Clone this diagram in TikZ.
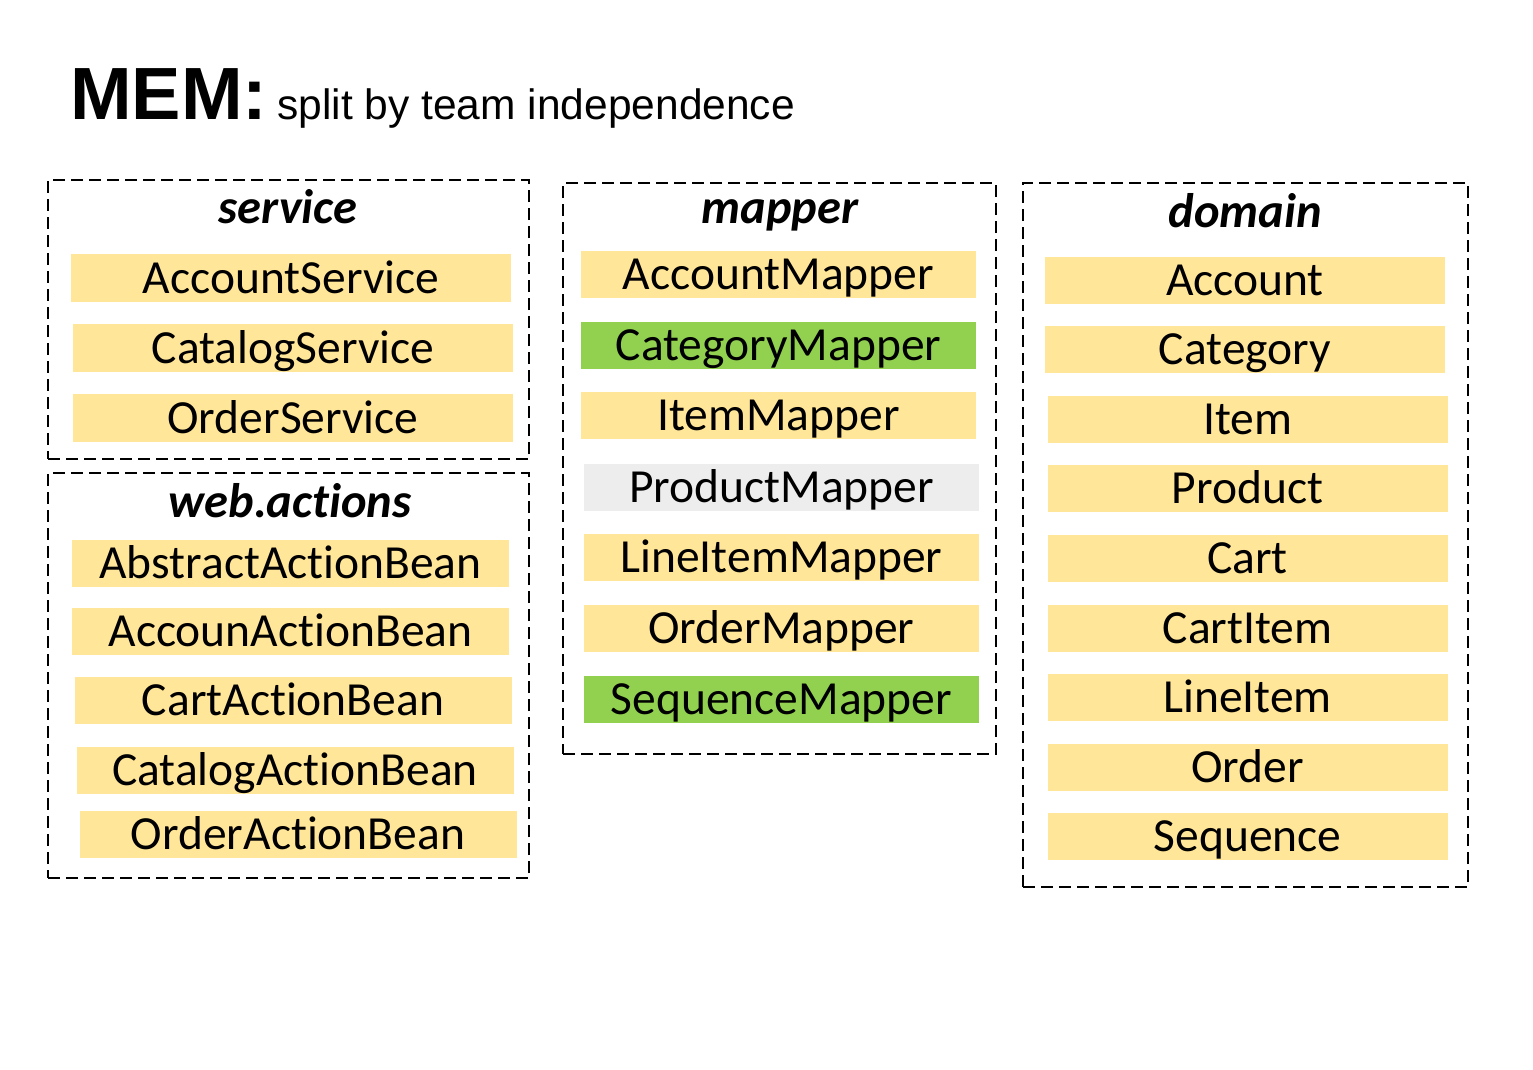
\documentclass[tikz,border=0pt]{standalone}
\usepackage{fontspec}
\setmainfont{Carlito}[Ligatures=NoCommon]
\newfontfamily\headfont{Liberation Sans}
\usepackage{tikz}
\usetikzlibrary{positioning}
\definecolor{cls}{HTML}{FFE699}
\definecolor{clsnew}{HTML}{92D050}
\definecolor{clsgone}{HTML}{EDEDED}

\begin{document}
\begin{tikzpicture} [x=1pt,y=-1pt]
	 \tikzstyle{pkg}=[draw,line width=2pt,dash pattern=on 12pt off 6pt,inner sep=0pt]
	 \tikzstyle{pkgname}=[anchor=base,inner sep=0pt,font=\fontsize{48.5}{54}\selectfont\bfseries\itshape]
	 \tikzstyle{cls}=[fill=cls,inner sep=0pt,text height=33pt,text depth=3pt,font=\fontsize{47.5}{54}\selectfont]
	 \tikzstyle{svcbox}=[cls,minimum width=440pt,minimum height=48pt]
	 \tikzstyle{webbox}=[cls,minimum width=437pt,minimum height=47pt]
	 \tikzstyle{mapbox}=[cls,minimum width=395pt,minimum height=47pt]
	 \tikzstyle{dombox}=[cls,minimum width=400pt,minimum height=47pt]
	 \useasboundingbox (0,0) rectangle (1533,1070);

	 \node[anchor=base west,inner sep=0pt] (title) at (70,120)
	   {\headfont{\fontsize{74}{80}\selectfont\bfseries MEM:}\hspace{10pt}{\fontsize{42.5}{50}\selectfont split by team independence}};

	 % service
	 \node[pkg,minimum width=481pt,minimum height=279pt] (svc) at (288.5,319.5) {};
	 \node[pkgname] (svcname) at (288,223) {service};
	 \node[svcbox] (svc1) at (291,278) {AccountService};
	 \node[svcbox] (svc2) at (293,348) {CatalogService};
	 \node[svcbox] (svc3) at (293,418) {OrderService};

	 % web.actions
	 \node[pkg,minimum width=481pt,minimum height=405pt] (web) at (288.5,675.5) {};
	 \node[pkgname] (webname) at (290,517) {web.actions};
	 \node[webbox] (web1) at (290.5,563) {AbstractActionBean};
	 \node[webbox] (web2) at (290.5,631.5) {AccounActionBean};
	 \node[webbox] (web3) at (293,700) {CartActionBean};
	 \node[webbox] (web4) at (295,770) {CatalogActionBean};
	 \node[webbox] (web5) at (298,834.5) {OrderActionBean};

	 % mapper
	 \node[pkg,minimum width=433pt,minimum height=571pt] (map) at (779.5,468.5) {};
	 \node[pkgname] (mapname) at (780,223) {mapper};
	 \node[mapbox] (map1) at (778.5,274.5) {AccountMapper};
	 \node[mapbox,fill=clsnew] (map2) at (778.5,345) {CategoryMapper};
	 \node[mapbox] (map3) at (778.5,415.5) {ItemMapper};
	 \node[mapbox,fill=clsgone] (map4) at (781.5,487) {ProductMapper};
	 \node[mapbox] (map5) at (781.5,557.5) {LineItemMapper};
	 \node[mapbox] (map6) at (781.5,628) {OrderMapper};
	 \node[mapbox,fill=clsnew] (map7) at (781.5,699) {SequenceMapper};

	 % domain
	 \node[pkg,minimum width=445pt,minimum height=704pt] (dom) at (1245.5,535) {};
	 \node[pkgname] (domname) at (1245,227) {domain};
	 \node[dombox] (dom1) at (1245,280.5) {Account};
	 \node[dombox] (dom2) at (1245,349.5) {Category};
	 \node[dombox] (dom3) at (1247.5,419.5) {Item};
	 \node[dombox] (dom4) at (1247.5,488.5) {Product};
	 \node[dombox] (dom5) at (1247.5,558.5) {Cart};
	 \node[dombox] (dom6) at (1247.5,628.5) {CartItem};
	 \node[dombox] (dom7) at (1247.5,697.5) {LineItem};
	 \node[dombox] (dom8) at (1247.5,767.5) {Order};
	 \node[dombox] (dom9) at (1247.5,836.5) {Sequence};
 \end{tikzpicture}
\end{document}
